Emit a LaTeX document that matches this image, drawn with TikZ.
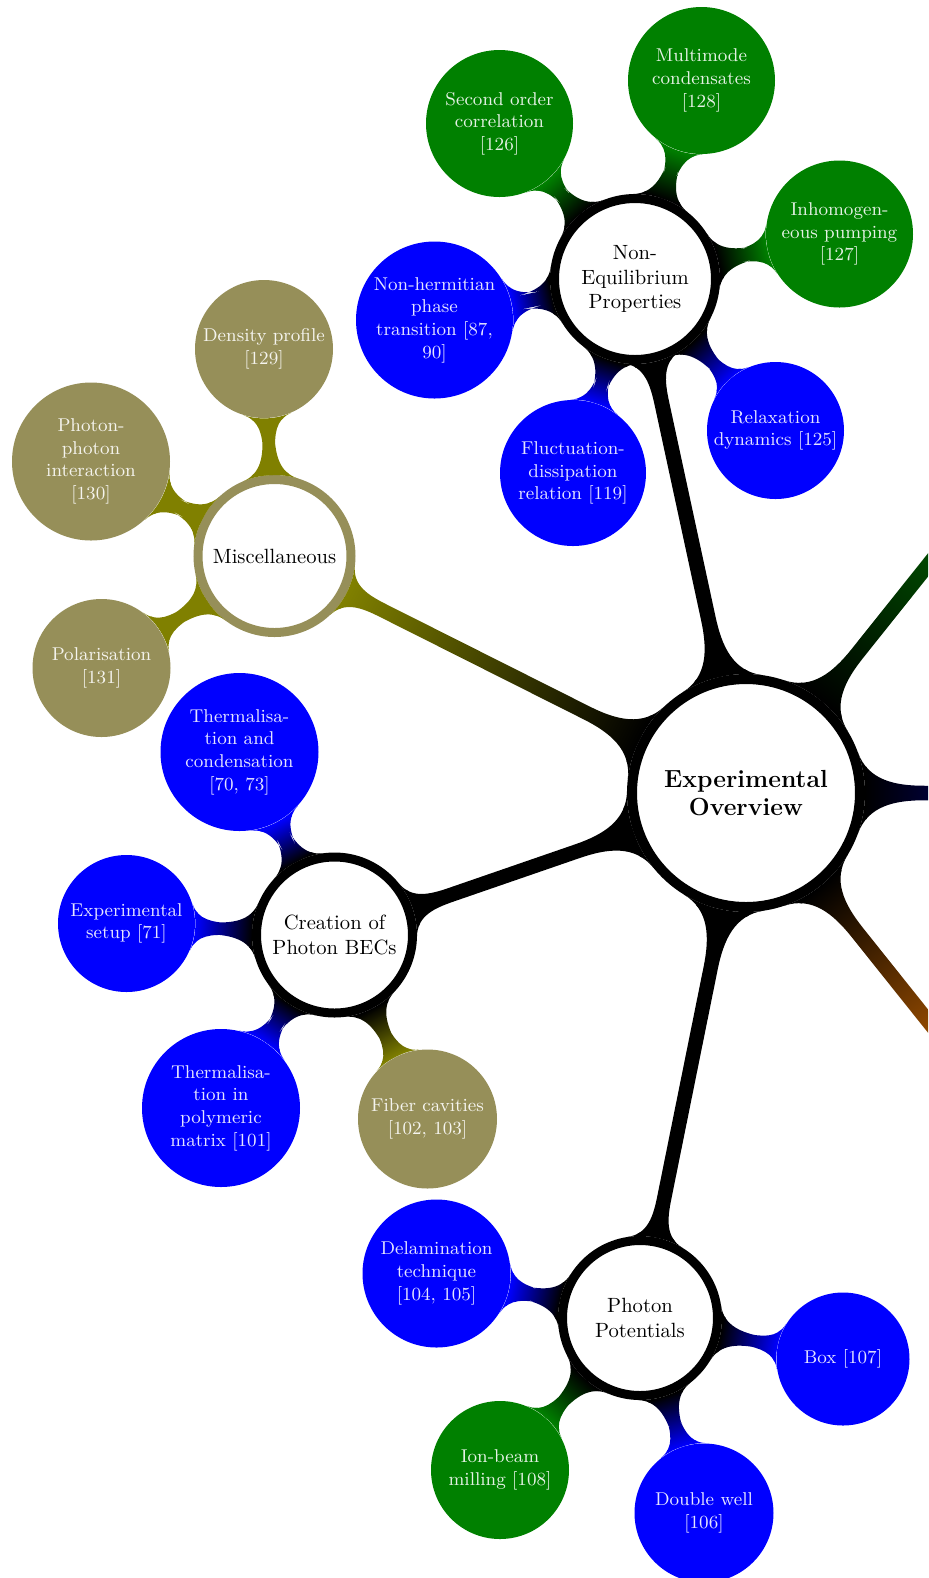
\documentclass[tikz,border=0pt]{standalone}
\usetikzlibrary{mindmap}
\definecolor{olivegray}{RGB}{150,143,89}
\definecolor{dgreen}{RGB}{0,128,0}
\definecolor{olivebar}{RGB}{128,128,0}
\definecolor{orangec}{RGB}{255,128,0}
\newcommand\U{0.4854pt}
\tikzset{
  rootc/.style={circle, fill=white, draw=black, line width=10*\U, minimum size=228*\U, inner sep=0pt, align=center, font=\large\bfseries, text=black},
  lvone/.style={circle, fill=white, draw=#1, line width=9*\U, inner sep=0pt, align=center, font=\normalsize, text=black},
  lvtwo/.style={circle, fill=#1, draw=none, inner sep=0pt, align=center, font=\small, text=white!90!#1},
  barone/.style={line width=13*\U},
  bartwo/.style={line width=12*\U},
}
\begin{document}
\begin{tikzpicture}[x=0.4854pt, y=-0.4854pt]
\useasboundingbox (0,0) rectangle (928,1578);
\clip (0,0) rectangle (928,1578);
% nodes
\node[rootc] (root) at (746,793) {Experimental\\Overview};
\node[lvone=black, minimum size=161*\U] (ne) at (635,279) {Non-\\Equilibrium\\Properties};
\node[lvone=olivegray, minimum size=153*\U] (misc) at (274.5,556) {Miscellaneous};
\node[lvone=black, minimum size=156*\U] (cr) at (334.5,935) {Creation of\\Photon BECs};
\node[lvone=black, minimum size=155*\U] (pp) at (640,1318) {Photon\\Potentials};
\node[lvone=dgreen, minimum size=157*\U] (offg) at (1073.5,382.7) {};
\node[lvone=blue, minimum size=157*\U] (offb) at (1271,793) {};
\node[lvone=orangec, minimum size=157*\U] (offo) at (1073.5,1203.3) {};
%
\node[lvtwo=dgreen, minimum size=147*\U] (so) at (499.5,123.5) {Second order\\correlation\\{}[126]};
\node[lvtwo=dgreen, minimum size=147*\U] (mm) at (701.5,80.5) {Multimode\\condensates\\{}[128]};
\node[lvtwo=dgreen, minimum size=147*\U] (ih) at (839.5,234) {Inhomogen-\\eous pumping\\{}[127]};
\node[lvtwo=blue, minimum size=137*\U] (rd) at (775.5,430.5) {Relaxation\\dynamics [125]};
\node[lvtwo=blue, minimum size=146*\U] (fd) at (573,473) {Fluctuation-\\dissipation\\relation [119]};
\node[lvtwo=blue, minimum size=157*\U] (nh) at (434.5,320) {Non-hermitian\\phase\\transition [87,\\90]};
\node[lvtwo=olivegray, minimum size=138*\U] (dp) at (264,349) {Density profile\\{}[129]};
\node[lvtwo=olivegray, minimum size=158*\U] (ppi) at (91,461.5) {Photon-\\photon\\interaction\\{}[130]};
\node[lvtwo=olivegray, minimum size=138*\U] (pol) at (101.5,668) {Polarisation\\{}[131]};
\node[lvtwo=blue, minimum size=158*\U] (tc) at (239.5,752) {Thermalisa-\\tion and\\condensation\\{}[70, 73]};
\node[lvtwo=blue, minimum size=137*\U] (es) at (126.5,923.5) {Experimental\\setup [71]};
\node[lvtwo=blue, minimum size=158*\U] (tp) at (221,1108) {Thermalisa-\\tion in\\polymeric\\matrix [101]};
\node[lvtwo=olivegray, minimum size=139*\U] (fc) at (427.5,1119) {Fiber cavities\\{}[102, 103]};
\node[lvtwo=blue, minimum size=148*\U] (dl) at (436.5,1273.5) {Delamination\\technique\\{}[104, 105]};
\node[lvtwo=blue, minimum size=133*\U] (bx) at (843,1359) {Box [107]};
\node[lvtwo=blue, minimum size=139*\U] (dw) at (704,1513) {Double well\\{}[106]};
\node[lvtwo=dgreen, minimum size=138*\U] (ib) at (500,1470) {Ion-beam\\milling [108]};
% bars
\path[barone] (root) to[circle connection bar switch color=from (black) to (black)] (ne);
\path[barone] (root) to[circle connection bar switch color=from (black) to (olivebar)] (misc);
\path[barone] (root) to[circle connection bar switch color=from (black) to (black)] (cr);
\path[barone] (root) to[circle connection bar switch color=from (black) to (black)] (pp);
\path[barone] (root) to[circle connection bar switch color=from (black) to (dgreen)] (offg);
\path[barone] (root) to[circle connection bar switch color=from (black) to (blue)] (offb);
\path[barone] (root) to[circle connection bar switch color=from (black) to (orangec)] (offo);
\path[bartwo] (ne) to[circle connection bar switch color=from (black) to (dgreen)] (so);
\path[bartwo] (ne) to[circle connection bar switch color=from (black) to (dgreen)] (mm);
\path[bartwo] (ne) to[circle connection bar switch color=from (black) to (dgreen)] (ih);
\path[bartwo] (ne) to[circle connection bar switch color=from (black) to (blue)] (rd);
\path[bartwo] (ne) to[circle connection bar switch color=from (black) to (blue)] (fd);
\path[bartwo] (ne) to[circle connection bar switch color=from (black) to (blue)] (nh);
\path[bartwo] (misc) to[circle connection bar switch color=from (olivebar) to (olivebar)] (dp);
\path[bartwo] (misc) to[circle connection bar switch color=from (olivebar) to (olivebar)] (ppi);
\path[bartwo] (misc) to[circle connection bar switch color=from (olivebar) to (olivebar)] (pol);
\path[bartwo] (cr) to[circle connection bar switch color=from (black) to (blue)] (tc);
\path[bartwo] (cr) to[circle connection bar switch color=from (black) to (blue)] (es);
\path[bartwo] (cr) to[circle connection bar switch color=from (black) to (blue)] (tp);
\path[bartwo] (cr) to[circle connection bar switch color=from (black) to (olivebar)] (fc);
\path[bartwo] (pp) to[circle connection bar switch color=from (black) to (blue)] (dl);
\path[bartwo] (pp) to[circle connection bar switch color=from (black) to (blue)] (bx);
\path[bartwo] (pp) to[circle connection bar switch color=from (black) to (blue)] (dw);
\path[bartwo] (pp) to[circle connection bar switch color=from (black) to (dgreen)] (ib);
\end{tikzpicture}
\end{document}
